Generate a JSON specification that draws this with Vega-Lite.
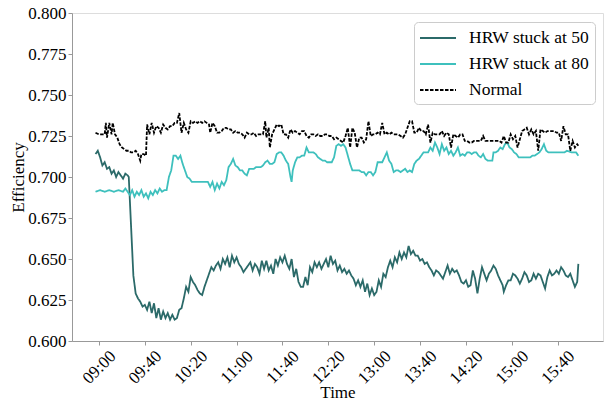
{
"$schema": "https://vega.github.io/schema/vega-lite/v6.json",
"width": 531, "height": 328,
"autosize": "none",
"padding": {"left": 72, "top": 13, "right": 6, "bottom": 62},
"background": "white",
"config": {
 "view": {"stroke": "#dddddd", "strokeWidth": 1},
 "font": "Times New Roman, Liberation Serif, Times, serif",
 "axis": {"grid": false, "domainColor": "#999999", "tickColor": "#999999", "labelFont": "Times New Roman, Liberation Serif, Times, serif", "labelFontSize": 17, "labelColor": "#000000", "titleFont": "Times New Roman, Liberation Serif, Times, serif", "titleFontSize": 17, "titleFontWeight": "normal", "titleColor": "#000000", "tickSize": 4},
 "legend": {"orient": "none", "legendX": 342, "legendY": 9, "symbolType": "M-1.8,0H1.8", "symbolSize": 400, "symbolOffset": 8, "labelFont": "Times New Roman, Liberation Serif, Times, serif", "labelFontSize": 17.5, "labelColor": "#000000", "fillColor": "white", "strokeColor": "#cccccc", "cornerRadius": 4, "padding": 5, "rowPadding": 6, "labelOffset": 20, "labelLimit": 300}
},
"datasets": {
"a": [{"t":537,"v":0.714},{"t":539,"v":0.716},{"t":541,"v":0.712},{"t":543,"v":0.707},{"t":545,"v":0.709},{"t":547,"v":0.705},{"t":549,"v":0.706},{"t":551,"v":0.702},{"t":553,"v":0.704},{"t":555,"v":0.700},{"t":557,"v":0.703},{"t":559,"v":0.701},{"t":561,"v":0.699},{"t":563,"v":0.702},{"t":565,"v":0.701},{"t":566,"v":0.700},{"t":568,"v":0.670},{"t":570,"v":0.640},{"t":572,"v":0.629},{"t":574,"v":0.626},{"t":576,"v":0.624},{"t":578,"v":0.621},{"t":580,"v":0.622},{"t":582,"v":0.619},{"t":584,"v":0.624},{"t":586,"v":0.617},{"t":588,"v":0.623},{"t":590,"v":0.614},{"t":592,"v":0.620},{"t":594,"v":0.613},{"t":596,"v":0.618},{"t":598,"v":0.614},{"t":600,"v":0.617},{"t":602,"v":0.613},{"t":604,"v":0.616},{"t":606,"v":0.613},{"t":608,"v":0.614},{"t":610,"v":0.619},{"t":612,"v":0.620},{"t":614,"v":0.626},{"t":616,"v":0.633},{"t":618,"v":0.630},{"t":620,"v":0.639},{"t":622,"v":0.636},{"t":624,"v":0.634},{"t":626,"v":0.631},{"t":628,"v":0.629},{"t":630,"v":0.628},{"t":632,"v":0.633},{"t":634,"v":0.637},{"t":636,"v":0.641},{"t":638,"v":0.645},{"t":640,"v":0.643},{"t":642,"v":0.646},{"t":644,"v":0.648},{"t":646,"v":0.644},{"t":648,"v":0.650},{"t":650,"v":0.647},{"t":652,"v":0.651},{"t":654,"v":0.645},{"t":656,"v":0.652},{"t":658,"v":0.648},{"t":660,"v":0.651},{"t":662,"v":0.647},{"t":664,"v":0.645},{"t":666,"v":0.642},{"t":668,"v":0.644},{"t":670,"v":0.646},{"t":672,"v":0.648},{"t":674,"v":0.643},{"t":676,"v":0.647},{"t":678,"v":0.645},{"t":680,"v":0.641},{"t":682,"v":0.649},{"t":684,"v":0.644},{"t":686,"v":0.649},{"t":688,"v":0.643},{"t":690,"v":0.646},{"t":692,"v":0.641},{"t":694,"v":0.650},{"t":696,"v":0.646},{"t":698,"v":0.651},{"t":700,"v":0.648},{"t":702,"v":0.652},{"t":704,"v":0.647},{"t":706,"v":0.644},{"t":708,"v":0.650},{"t":710,"v":0.639},{"t":712,"v":0.644},{"t":714,"v":0.636},{"t":716,"v":0.633},{"t":718,"v":0.633},{"t":720,"v":0.639},{"t":722,"v":0.634},{"t":724,"v":0.645},{"t":726,"v":0.642},{"t":728,"v":0.648},{"t":730,"v":0.645},{"t":732,"v":0.648},{"t":734,"v":0.644},{"t":736,"v":0.647},{"t":738,"v":0.650},{"t":740,"v":0.645},{"t":742,"v":0.652},{"t":744,"v":0.647},{"t":746,"v":0.649},{"t":748,"v":0.643},{"t":750,"v":0.646},{"t":752,"v":0.642},{"t":754,"v":0.644},{"t":756,"v":0.641},{"t":758,"v":0.643},{"t":760,"v":0.640},{"t":762,"v":0.638},{"t":764,"v":0.634},{"t":766,"v":0.637},{"t":768,"v":0.633},{"t":770,"v":0.637},{"t":772,"v":0.630},{"t":774,"v":0.635},{"t":776,"v":0.628},{"t":778,"v":0.632},{"t":780,"v":0.628},{"t":782,"v":0.630},{"t":784,"v":0.637},{"t":786,"v":0.633},{"t":788,"v":0.641},{"t":790,"v":0.639},{"t":792,"v":0.645},{"t":794,"v":0.649},{"t":796,"v":0.645},{"t":798,"v":0.651},{"t":800,"v":0.648},{"t":802,"v":0.654},{"t":804,"v":0.650},{"t":806,"v":0.654},{"t":808,"v":0.651},{"t":810,"v":0.658},{"t":812,"v":0.653},{"t":814,"v":0.655},{"t":816,"v":0.652},{"t":818,"v":0.652},{"t":820,"v":0.649},{"t":822,"v":0.650},{"t":824,"v":0.647},{"t":826,"v":0.648},{"t":828,"v":0.645},{"t":830,"v":0.643},{"t":832,"v":0.640},{"t":834,"v":0.643},{"t":836,"v":0.642},{"t":838,"v":0.640},{"t":840,"v":0.638},{"t":842,"v":0.642},{"t":844,"v":0.646},{"t":846,"v":0.641},{"t":848,"v":0.644},{"t":850,"v":0.642},{"t":852,"v":0.643},{"t":854,"v":0.640},{"t":856,"v":0.636},{"t":858,"v":0.635},{"t":860,"v":0.637},{"t":862,"v":0.633},{"t":864,"v":0.634},{"t":866,"v":0.643},{"t":868,"v":0.638},{"t":870,"v":0.629},{"t":872,"v":0.638},{"t":874,"v":0.645},{"t":876,"v":0.641},{"t":878,"v":0.637},{"t":880,"v":0.641},{"t":882,"v":0.643},{"t":884,"v":0.646},{"t":886,"v":0.644},{"t":888,"v":0.640},{"t":890,"v":0.637},{"t":892,"v":0.634},{"t":893,"v":0.630},{"t":895,"v":0.634},{"t":897,"v":0.637},{"t":899,"v":0.637},{"t":901,"v":0.641},{"t":903,"v":0.640},{"t":905,"v":0.638},{"t":907,"v":0.635},{"t":909,"v":0.638},{"t":911,"v":0.642},{"t":913,"v":0.640},{"t":915,"v":0.636},{"t":917,"v":0.637},{"t":919,"v":0.641},{"t":921,"v":0.638},{"t":923,"v":0.641},{"t":925,"v":0.640},{"t":927,"v":0.636},{"t":929,"v":0.632},{"t":931,"v":0.639},{"t":933,"v":0.643},{"t":935,"v":0.640},{"t":937,"v":0.641},{"t":939,"v":0.643},{"t":941,"v":0.641},{"t":943,"v":0.645},{"t":945,"v":0.643},{"t":947,"v":0.640},{"t":949,"v":0.639},{"t":951,"v":0.641},{"t":953,"v":0.637},{"t":955,"v":0.633},{"t":957,"v":0.636},{"t":958,"v":0.647}],
"b": [{"t":537,"v":0.691},{"t":541,"v":0.692},{"t":545,"v":0.691},{"t":549,"v":0.692},{"t":553,"v":0.691},{"t":557,"v":0.692},{"t":561,"v":0.691},{"t":563,"v":0.693},{"t":565,"v":0.691},{"t":567,"v":0.689},{"t":569,"v":0.692},{"t":571,"v":0.688},{"t":573,"v":0.691},{"t":575,"v":0.689},{"t":577,"v":0.692},{"t":579,"v":0.688},{"t":581,"v":0.690},{"t":583,"v":0.687},{"t":585,"v":0.691},{"t":587,"v":0.689},{"t":589,"v":0.692},{"t":591,"v":0.690},{"t":593,"v":0.693},{"t":595,"v":0.691},{"t":597,"v":0.692},{"t":599,"v":0.692},{"t":601,"v":0.700},{"t":603,"v":0.704},{"t":605,"v":0.713},{"t":607,"v":0.713},{"t":609,"v":0.711},{"t":611,"v":0.713},{"t":613,"v":0.708},{"t":615,"v":0.704},{"t":617,"v":0.700},{"t":619,"v":0.699},{"t":621,"v":0.697},{"t":625,"v":0.697},{"t":629,"v":0.697},{"t":633,"v":0.697},{"t":635,"v":0.697},{"t":637,"v":0.694},{"t":639,"v":0.697},{"t":641,"v":0.692},{"t":643,"v":0.696},{"t":645,"v":0.693},{"t":647,"v":0.697},{"t":649,"v":0.695},{"t":651,"v":0.698},{"t":653,"v":0.706},{"t":655,"v":0.708},{"t":657,"v":0.711},{"t":659,"v":0.707},{"t":661,"v":0.706},{"t":663,"v":0.704},{"t":665,"v":0.704},{"t":667,"v":0.702},{"t":669,"v":0.701},{"t":671,"v":0.705},{"t":673,"v":0.705},{"t":675,"v":0.705},{"t":677,"v":0.706},{"t":679,"v":0.706},{"t":681,"v":0.706},{"t":683,"v":0.707},{"t":685,"v":0.709},{"t":687,"v":0.710},{"t":689,"v":0.708},{"t":691,"v":0.708},{"t":693,"v":0.709},{"t":695,"v":0.714},{"t":697,"v":0.715},{"t":699,"v":0.715},{"t":701,"v":0.713},{"t":703,"v":0.710},{"t":705,"v":0.708},{"t":707,"v":0.700},{"t":708,"v":0.697},{"t":709,"v":0.704},{"t":711,"v":0.709},{"t":713,"v":0.712},{"t":715,"v":0.712},{"t":717,"v":0.713},{"t":719,"v":0.713},{"t":721,"v":0.718},{"t":723,"v":0.715},{"t":725,"v":0.715},{"t":727,"v":0.715},{"t":729,"v":0.714},{"t":731,"v":0.712},{"t":733,"v":0.711},{"t":735,"v":0.710},{"t":737,"v":0.710},{"t":739,"v":0.709},{"t":741,"v":0.709},{"t":743,"v":0.709},{"t":745,"v":0.712},{"t":747,"v":0.719},{"t":749,"v":0.720},{"t":751,"v":0.719},{"t":753,"v":0.720},{"t":755,"v":0.718},{"t":757,"v":0.713},{"t":759,"v":0.708},{"t":761,"v":0.704},{"t":763,"v":0.704},{"t":765,"v":0.704},{"t":767,"v":0.704},{"t":769,"v":0.703},{"t":771,"v":0.703},{"t":773,"v":0.701},{"t":775,"v":0.703},{"t":777,"v":0.703},{"t":779,"v":0.701},{"t":781,"v":0.703},{"t":783,"v":0.709},{"t":785,"v":0.709},{"t":787,"v":0.709},{"t":789,"v":0.712},{"t":791,"v":0.715},{"t":793,"v":0.710},{"t":795,"v":0.708},{"t":797,"v":0.703},{"t":799,"v":0.704},{"t":801,"v":0.704},{"t":803,"v":0.703},{"t":805,"v":0.704},{"t":807,"v":0.705},{"t":809,"v":0.703},{"t":811,"v":0.704},{"t":813,"v":0.703},{"t":815,"v":0.708},{"t":817,"v":0.710},{"t":819,"v":0.711},{"t":821,"v":0.713},{"t":823,"v":0.715},{"t":825,"v":0.715},{"t":827,"v":0.715},{"t":829,"v":0.718},{"t":831,"v":0.716},{"t":833,"v":0.721},{"t":835,"v":0.718},{"t":837,"v":0.714},{"t":839,"v":0.720},{"t":841,"v":0.716},{"t":843,"v":0.718},{"t":845,"v":0.714},{"t":847,"v":0.716},{"t":849,"v":0.713},{"t":851,"v":0.715},{"t":853,"v":0.718},{"t":855,"v":0.713},{"t":857,"v":0.714},{"t":859,"v":0.713},{"t":861,"v":0.715},{"t":863,"v":0.715},{"t":865,"v":0.714},{"t":867,"v":0.715},{"t":869,"v":0.715},{"t":871,"v":0.713},{"t":873,"v":0.712},{"t":875,"v":0.714},{"t":877,"v":0.711},{"t":879,"v":0.710},{"t":881,"v":0.710},{"t":883,"v":0.710},{"t":884,"v":0.715},{"t":886,"v":0.715},{"t":888,"v":0.716},{"t":890,"v":0.718},{"t":892,"v":0.717},{"t":894,"v":0.720},{"t":896,"v":0.721},{"t":898,"v":0.718},{"t":900,"v":0.717},{"t":902,"v":0.715},{"t":904,"v":0.714},{"t":906,"v":0.712},{"t":908,"v":0.712},{"t":910,"v":0.712},{"t":912,"v":0.712},{"t":914,"v":0.712},{"t":916,"v":0.712},{"t":918,"v":0.713},{"t":920,"v":0.713},{"t":922,"v":0.714},{"t":924,"v":0.715},{"t":926,"v":0.717},{"t":928,"v":0.720},{"t":930,"v":0.716},{"t":932,"v":0.715},{"t":934,"v":0.715},{"t":940,"v":0.715},{"t":946,"v":0.715},{"t":948,"v":0.716},{"t":952,"v":0.715},{"t":956,"v":0.715},{"t":958,"v":0.713}],
"n": [{"t":537,"v":0.727},{"t":540,"v":0.726},{"t":543,"v":0.726},{"t":545,"v":0.726},{"t":546,"v":0.733},{"t":547,"v":0.724},{"t":549,"v":0.733},{"t":551,"v":0.726},{"t":552,"v":0.733},{"t":554,"v":0.726},{"t":556,"v":0.724},{"t":558,"v":0.720},{"t":560,"v":0.718},{"t":562,"v":0.717},{"t":564,"v":0.716},{"t":566,"v":0.716},{"t":568,"v":0.715},{"t":570,"v":0.715},{"t":572,"v":0.716},{"t":574,"v":0.714},{"t":576,"v":0.710},{"t":577,"v":0.714},{"t":579,"v":0.714},{"t":581,"v":0.713},{"t":582,"v":0.732},{"t":584,"v":0.726},{"t":586,"v":0.733},{"t":588,"v":0.727},{"t":590,"v":0.731},{"t":592,"v":0.730},{"t":594,"v":0.727},{"t":596,"v":0.732},{"t":598,"v":0.730},{"t":600,"v":0.729},{"t":602,"v":0.731},{"t":604,"v":0.731},{"t":606,"v":0.733},{"t":608,"v":0.733},{"t":610,"v":0.739},{"t":612,"v":0.727},{"t":614,"v":0.733},{"t":616,"v":0.729},{"t":618,"v":0.727},{"t":620,"v":0.734},{"t":622,"v":0.733},{"t":624,"v":0.734},{"t":626,"v":0.733},{"t":628,"v":0.734},{"t":630,"v":0.733},{"t":632,"v":0.734},{"t":634,"v":0.733},{"t":636,"v":0.732},{"t":637,"v":0.727},{"t":639,"v":0.733},{"t":641,"v":0.731},{"t":643,"v":0.727},{"t":645,"v":0.727},{"t":647,"v":0.728},{"t":649,"v":0.730},{"t":651,"v":0.730},{"t":653,"v":0.729},{"t":655,"v":0.729},{"t":657,"v":0.727},{"t":659,"v":0.728},{"t":661,"v":0.727},{"t":663,"v":0.727},{"t":665,"v":0.726},{"t":667,"v":0.724},{"t":669,"v":0.727},{"t":671,"v":0.726},{"t":673,"v":0.726},{"t":675,"v":0.727},{"t":677,"v":0.725},{"t":679,"v":0.726},{"t":681,"v":0.726},{"t":683,"v":0.726},{"t":685,"v":0.734},{"t":686,"v":0.724},{"t":688,"v":0.730},{"t":689,"v":0.718},{"t":691,"v":0.726},{"t":693,"v":0.729},{"t":695,"v":0.732},{"t":697,"v":0.731},{"t":699,"v":0.732},{"t":701,"v":0.726},{"t":703,"v":0.726},{"t":705,"v":0.724},{"t":707,"v":0.729},{"t":709,"v":0.727},{"t":711,"v":0.728},{"t":713,"v":0.727},{"t":715,"v":0.726},{"t":717,"v":0.728},{"t":719,"v":0.728},{"t":721,"v":0.725},{"t":723,"v":0.724},{"t":725,"v":0.726},{"t":727,"v":0.726},{"t":729,"v":0.725},{"t":731,"v":0.726},{"t":733,"v":0.725},{"t":735,"v":0.725},{"t":737,"v":0.726},{"t":739,"v":0.726},{"t":741,"v":0.725},{"t":743,"v":0.725},{"t":745,"v":0.723},{"t":747,"v":0.724},{"t":749,"v":0.723},{"t":751,"v":0.722},{"t":753,"v":0.721},{"t":755,"v":0.725},{"t":757,"v":0.730},{"t":759,"v":0.718},{"t":761,"v":0.730},{"t":763,"v":0.727},{"t":765,"v":0.718},{"t":767,"v":0.724},{"t":769,"v":0.724},{"t":771,"v":0.721},{"t":773,"v":0.723},{"t":775,"v":0.734},{"t":777,"v":0.725},{"t":779,"v":0.726},{"t":781,"v":0.726},{"t":783,"v":0.727},{"t":785,"v":0.726},{"t":787,"v":0.733},{"t":789,"v":0.726},{"t":791,"v":0.727},{"t":793,"v":0.726},{"t":795,"v":0.727},{"t":797,"v":0.726},{"t":799,"v":0.726},{"t":801,"v":0.726},{"t":803,"v":0.725},{"t":805,"v":0.724},{"t":807,"v":0.726},{"t":809,"v":0.730},{"t":811,"v":0.734},{"t":813,"v":0.734},{"t":815,"v":0.727},{"t":817,"v":0.727},{"t":819,"v":0.730},{"t":821,"v":0.728},{"t":823,"v":0.728},{"t":825,"v":0.726},{"t":827,"v":0.732},{"t":829,"v":0.721},{"t":831,"v":0.727},{"t":833,"v":0.726},{"t":835,"v":0.726},{"t":837,"v":0.726},{"t":839,"v":0.728},{"t":841,"v":0.725},{"t":843,"v":0.727},{"t":845,"v":0.726},{"t":847,"v":0.718},{"t":849,"v":0.726},{"t":851,"v":0.725},{"t":853,"v":0.724},{"t":855,"v":0.726},{"t":857,"v":0.726},{"t":859,"v":0.722},{"t":861,"v":0.722},{"t":863,"v":0.721},{"t":865,"v":0.721},{"t":867,"v":0.722},{"t":869,"v":0.722},{"t":871,"v":0.722},{"t":873,"v":0.722},{"t":875,"v":0.725},{"t":877,"v":0.722},{"t":879,"v":0.722},{"t":881,"v":0.722},{"t":883,"v":0.722},{"t":885,"v":0.722},{"t":887,"v":0.722},{"t":889,"v":0.722},{"t":891,"v":0.721},{"t":893,"v":0.725},{"t":895,"v":0.721},{"t":897,"v":0.721},{"t":899,"v":0.726},{"t":901,"v":0.723},{"t":903,"v":0.725},{"t":905,"v":0.718},{"t":907,"v":0.723},{"t":909,"v":0.728},{"t":911,"v":0.729},{"t":913,"v":0.730},{"t":915,"v":0.726},{"t":917,"v":0.729},{"t":919,"v":0.726},{"t":921,"v":0.728},{"t":923,"v":0.716},{"t":925,"v":0.729},{"t":927,"v":0.728},{"t":929,"v":0.727},{"t":931,"v":0.728},{"t":933,"v":0.728},{"t":935,"v":0.728},{"t":937,"v":0.728},{"t":939,"v":0.727},{"t":941,"v":0.727},{"t":943,"v":0.722},{"t":945,"v":0.731},{"t":947,"v":0.726},{"t":949,"v":0.726},{"t":951,"v":0.716},{"t":953,"v":0.722},{"t":955,"v":0.718},{"t":957,"v":0.720},{"t":958,"v":0.719}]
},
"encoding": {
 "x": {"field": "t", "type": "quantitative", "scale": {"domain": [516.5, 979.5], "nice": false, "zero": false}, "axis": {"values": [540, 580, 620, 660, 700, 740, 780, 820, 860, 900, 940], "labelExpr": "timeFormat(datetime(2000, 0, 1, 0, datum.value), '%H:%M')", "labelAngle": -45, "labelAlign": "center", "labelBaseline": "middle", "labelPadding": 22, "title": "Time", "titlePadding": -2}},
 "y": {"field": "v", "type": "quantitative", "scale": {"domain": [0.6, 0.8], "nice": false, "zero": false}, "axis": {"values": [0.6, 0.625, 0.65, 0.675, 0.7, 0.725, 0.75, 0.775, 0.8], "format": ".3f", "title": "Efficiency", "titlePadding": 0}}
},
"layer": [
 {"data": {"name": "a"}, "mark": {"type": "line"},
  "encoding": {
   "color": {"datum": "HRW stuck at 50", "type": "nominal", "scale": {"domain": ["HRW stuck at 50", "HRW stuck at 80", "Normal"], "range": ["#2b6a69", "#3ec0bd", "#000000"]}, "legend": {"title": null}},
   "strokeDash": {"datum": "HRW stuck at 50", "type": "nominal", "scale": {"domain": ["HRW stuck at 50", "HRW stuck at 80", "Normal"], "range": [[1, 0], [1, 0], [3.5, 1.5]]}, "legend": {"title": null}},
   "strokeWidth": {"datum": "HRW stuck at 50", "type": "nominal", "scale": {"domain": ["HRW stuck at 50", "HRW stuck at 80", "Normal"], "range": [1.8, 1.8, 1]}, "legend": {"title": null}}
  }},
 {"data": {"name": "b"}, "mark": {"type": "line"},
  "encoding": {
   "color": {"datum": "HRW stuck at 80", "type": "nominal"},
   "strokeDash": {"datum": "HRW stuck at 80", "type": "nominal"},
   "strokeWidth": {"datum": "HRW stuck at 80", "type": "nominal"}
  }},
 {"data": {"name": "n"}, "mark": {"type": "line"},
  "encoding": {
   "color": {"datum": "Normal", "type": "nominal"},
   "strokeDash": {"datum": "Normal", "type": "nominal"},
   "strokeWidth": {"datum": "Normal", "type": "nominal"}
  }}
]
}
